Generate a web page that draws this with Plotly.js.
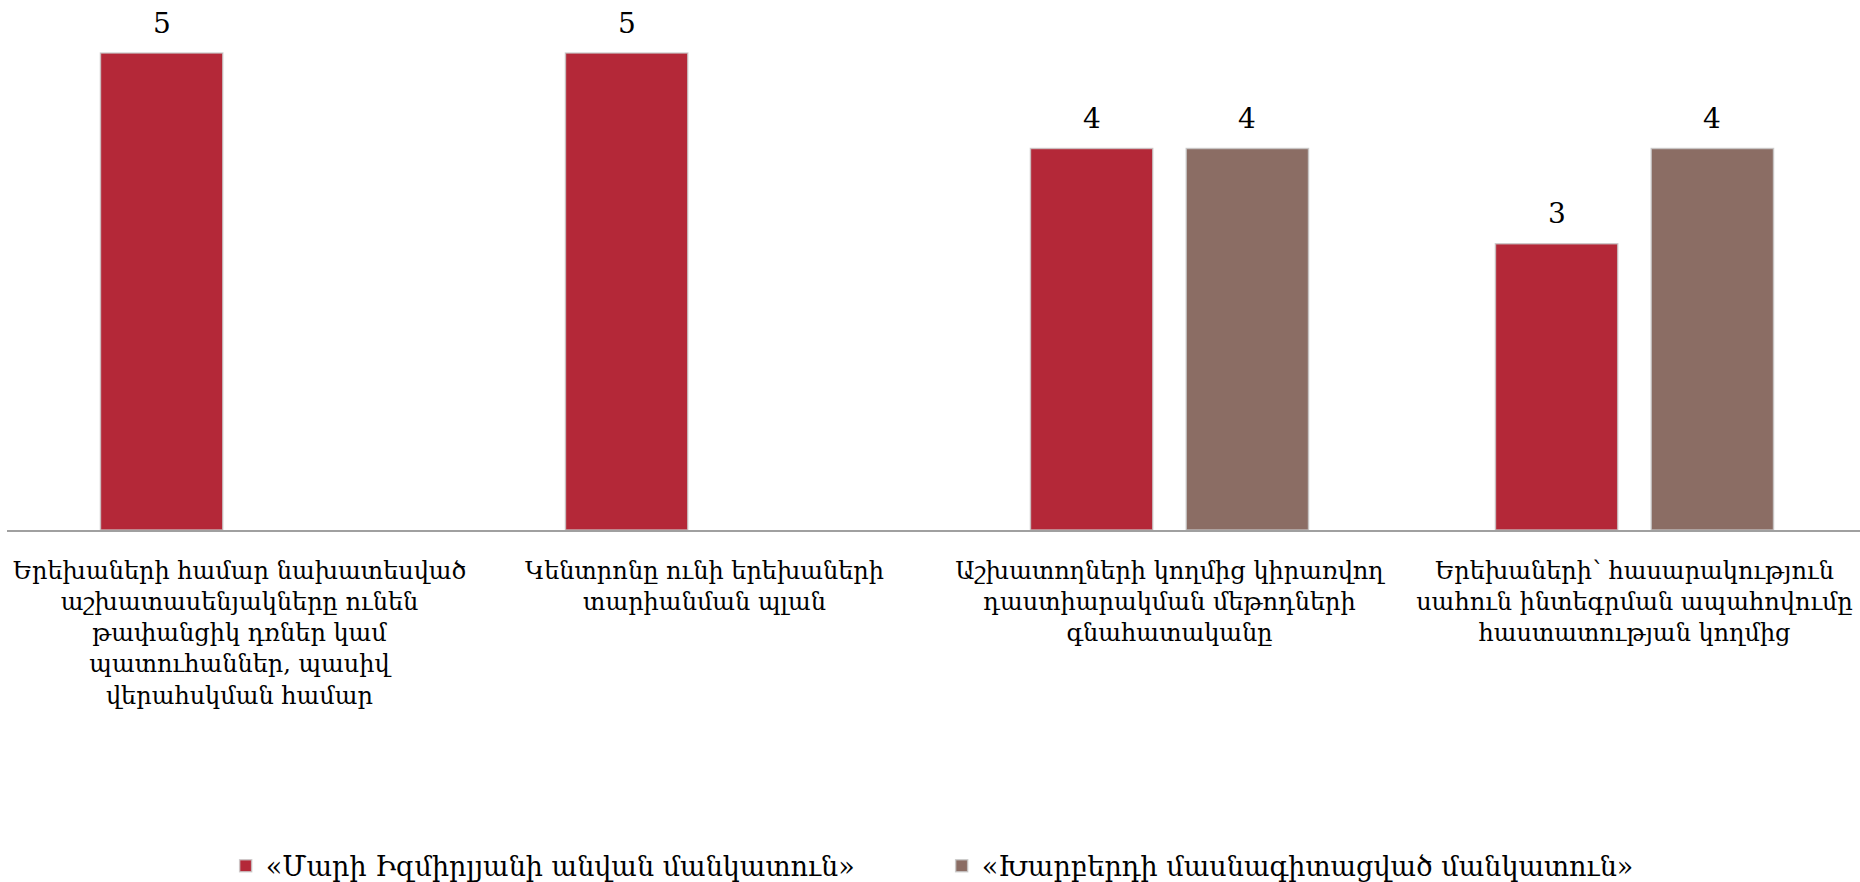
<!DOCTYPE html>
<html>
<head>
<meta charset="utf-8">
<script src="https://cdn.plot.ly/plotly-3.0.1.min.js"></script>
<style>html,body{margin:0;padding:0;background:#fff;}#chart{width:1860px;height:882px;}</style>
</head>
<body>
<div id="chart"></div>
<script>
const categories = [
  "Երեխաների համար նախատեսված<br>աշխատասենյակները ունեն<br>թափանցիկ դռներ կամ<br>պատուհաններ, պասիվ<br>վերահսկման համար",
  "Կենտրոնը ունի երեխաների<br>տարիանման պլան",
  "Աշխատողների կողմից կիրառվող<br>դաստիարակման մեթոդների<br>գնահատականը",
  "Երեխաների՝ հասարակություն<br>սահուն ինտեգրման ապահովումը<br>հաստատության կողմից"
];
const seriesNames = ["«Մարի Իզմիրլյանի անվան մանկատուն»", "«Խարբերդի մասնագիտացված մանկատուն»"];
const series1 = [5, 5, 4, 3];
const series2 = [null, null, 4, 4];
const colors = ["#B42838", "#8B6D64"];

const FONT = "Sylfaen, 'DejaVu Serif', serif";
const W = 1860, H = 882;
const M = {l: 7, r: 0, t: 10, b: 352};
const BARGAP = 0.33;
const XRANGE = [-0.5, 3.485];

const allSeries = [series1, series2];

const data = allSeries.map((vals, i) => ({
  type: "bar",
  name: seriesNames[i],
  x: categories,
  y: vals,
  marker: {color: colors[i], line: {color: "rgba(200,200,200,0.8)", width: 1.5}},
  hoverinfo: "skip"
}));

// value labels placed above each bar, using the category axis and the group offsets
const catW = (W - M.l - M.r) / (XRANGE[1] - XRANGE[0]);
const slot = (1 - BARGAP) * catW / allSeries.length;
const annotations = [];
allSeries.forEach((vals, i) => {
  vals.forEach((v, j) => {
    if (v === null) return;
    annotations.push({
      x: categories[j], y: v, xref: "x", yref: "y",
      text: String(v), showarrow: false,
      xshift: (i - (allSeries.length - 1) / 2) * slot,
      yshift: 30, yanchor: "middle",
      font: {family: FONT, size: 28, color: "#000"}
    });
  });
});

const layout = {
  width: W, height: H,
  margin: M,
  paper_bgcolor: "#fff", plot_bgcolor: "#fff",
  barmode: "group",
  bargap: BARGAP,
  bargroupgap: 0.215,
  font: {family: FONT, size: 24, color: "#000"},
  xaxis: {
    type: "category",
    range: XRANGE,
    showline: true, linecolor: "#a0a0a0", linewidth: 2,
    ticks: "", showgrid: false,
    tickfont: {family: FONT, size: 24, color: "#000"},
    tickangle: 0,
    automargin: false,
    ticklabelstandoff: 18
  },
  yaxis: {
    range: [0, 5.451],
    showgrid: false, zeroline: false, showline: false,
    showticklabels: false, ticks: "", automargin: false
  },
  annotations: annotations,
  showlegend: true,
  legend: {
    orientation: "h",
    x: 0.118, xanchor: "left",
    yref: "container",
    y: 0.018, yanchor: "middle",
    font: {family: FONT, size: 27, color: "#000"},
    entrywidth: 671, entrywidthmode: "pixels",
    traceorder: "normal"
  }
};

Plotly.newPlot("chart", data, layout, {displayModeBar: false, staticPlot: true});
</script>
</body>
</html>
